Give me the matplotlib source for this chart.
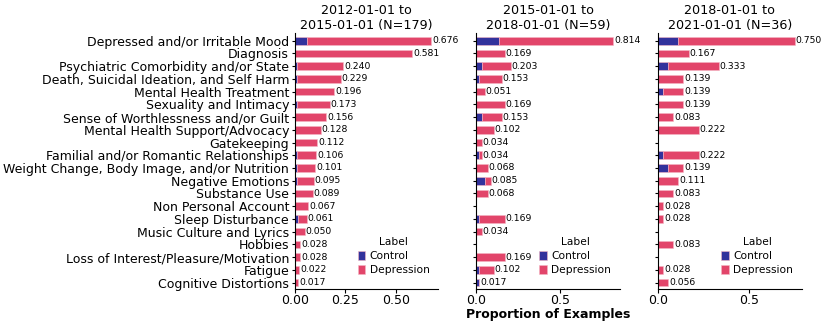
import numpy as np
import matplotlib.pyplot as plt

categories = [
    'Depressed and/or Irritable Mood', 'Diagnosis',
    'Psychiatric Comorbidity and/or State',
    'Death, Suicidal Ideation, and Self Harm', 'Mental Health Treatment',
    'Sexuality and Intimacy', 'Sense of Worthlessness and/or Guilt',
    'Mental Health Support/Advocacy', 'Gatekeeping',
    'Familial and/or Romantic Relationships',
    'Weight Change, Body Image, and/or Nutrition', 'Negative Emotions',
    'Substance Use', 'Non Personal Account', 'Sleep Disturbance',
    'Music Culture and Lyrics', 'Hobbies',
    'Loss of Interest/Pleasure/Motivation', 'Fatigue',
    'Cognitive Distortions',
]

titles = ['2012-01-01 to\n2015-01-01 (N=179)',
          '2015-01-01 to\n2018-01-01 (N=59)',
          '2018-01-01 to\n2021-01-01 (N=36)']

# total proportion per category (label shown at bar end)
total_p1 = [0.676, 0.581, 0.240, 0.229, 0.196, 0.173, 0.156, 0.128, 0.112, 0.106,
            0.101, 0.095, 0.089, 0.067, 0.061, 0.050, 0.028, 0.028, 0.022, 0.017]
total_p2 = [0.814, 0.169, 0.203, 0.153, 0.051, 0.169, 0.153, 0.102, 0.034, 0.034,
            0.068, 0.085, 0.068, 0.0, 0.169, 0.034, 0.0, 0.169, 0.102, 0.017]
total_p3 = [0.750, 0.167, 0.333, 0.139, 0.139, 0.139, 0.083, 0.222, 0.0, 0.222,
            0.139, 0.111, 0.083, 0.028, 0.028, 0.0, 0.083, 0.0, 0.028, 0.056]

# control share of each bar
control_p1 = [0.061, 0.0, 0.011, 0.011, 0.0, 0.011, 0.0, 0.0, 0.0, 0.011,
              0.011, 0.011, 0.0, 0.0, 0.017, 0.0, 0.0, 0.0, 0.0, 0.0]
control_p2 = [0.136, 0.0, 0.034, 0.017, 0.0, 0.0, 0.034, 0.0, 0.0, 0.017,
              0.0, 0.051, 0.0, 0.0, 0.017, 0.0, 0.0, 0.0, 0.017, 0.017]
control_p3 = [0.111, 0.0, 0.056, 0.0, 0.028, 0.0, 0.0, 0.0, 0.0, 0.028,
              0.056, 0.0, 0.0, 0.0, 0.0, 0.0, 0.0, 0.0, 0.0, 0.0]

totals = [total_p1, total_p2, total_p3]
controls = [control_p1, control_p2, control_p3]

c_control = '#32329c'
c_depr = '#e2456a'

fig, axes = plt.subplots(1, 3, figsize=(8.3, 3.21), dpi=100, sharey=True)
fig.subplots_adjust(left=0.355, right=0.966, bottom=0.1, top=0.897, wspace=0.265)

y = np.arange(len(categories))
for ax, title, tot, ctl in zip(axes, titles, totals, controls):
    tot = np.array(tot)
    ctl = np.array(ctl)
    dep = tot - ctl
    ax.barh(y, ctl, height=0.6, color=c_control, edgecolor='#f4b6c4',
            linewidth=0.4, label='Control')
    ax.barh(y, dep, left=ctl, height=0.6, color=c_depr, edgecolor='#f4b6c4',
            linewidth=0.4, label='Depression')
    for yi, t in zip(y, tot):
        if t > 0:
            ax.text(t + 0.004, yi, f'{t:.3f}', va='center', ha='left', fontsize=6.7)
    ax.set_xlim(0, tot.max() * 1.05)
    ax.set_title(title, fontsize=9.2, pad=3)
    ax.spines['top'].set_visible(False)
    ax.spines['right'].set_visible(False)
    ax.tick_params(axis='x', labelsize=9, length=3, pad=1)
    ax.tick_params(axis='y', length=2.5, pad=1.5)
    ax.legend(title='Label', loc='lower right', frameon=False, fontsize=7.7,
              title_fontsize=7.7, handlelength=0.7, handleheight=0.9,
              handletextpad=0.4, labelspacing=0.35, borderpad=0.2,
              bbox_to_anchor=(0.99, 0.025))

axes[0].set_ylim(len(categories) - 0.5, -0.6)
axes[0].set_yticks(y)
axes[0].set_yticklabels(categories, fontsize=9)
axes[0].set_xticks([0, 0.25, 0.5])
axes[1].set_xticks([0, 0.5])
axes[2].set_xticks([0, 0.5])
axes[1].set_xlabel('Proportion of Examples', fontweight='bold', fontsize=9,
                   labelpad=0.5)

plt.savefig('out.png')
